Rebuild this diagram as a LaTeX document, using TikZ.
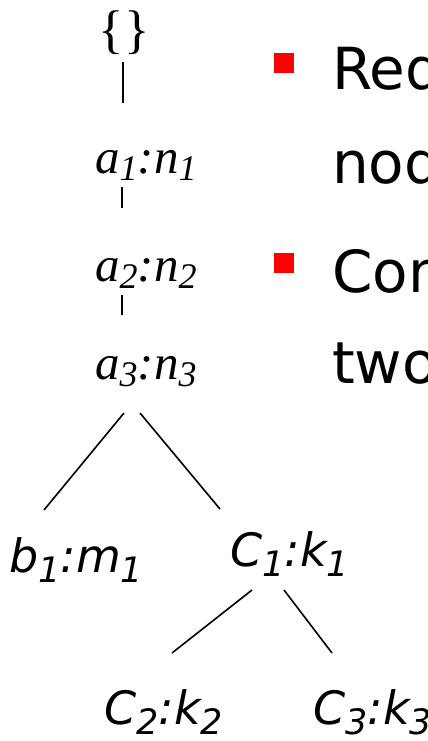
\documentclass[tikz,border=0pt]{standalone}
\usepackage{fontspec}
\newfontfamily\serifit{Liberation Serif}
\newfontfamily\dejasans{DejaVu Sans}
\newcommand\topsub[1]{\raisebox{-7pt}{\fontsize{36}{36}\selectfont #1}}
\newcommand\botsub[1]{\raisebox{-10pt}{\fontsize{35}{35}\selectfont #1}}
\begin{document}
\begin{tikzpicture}[x=1pt,y=-1pt,
  toplbl/.style={inner sep=0pt,anchor=base west,font=\serifit\fontsize{49}{49}\selectfont\itshape},
  botlbl/.style={inner sep=0pt,anchor=base west,font=\dejasans\fontsize{46}{46}\selectfont\itshape},
  bultext/.style={inner sep=0pt,anchor=base west,font=\dejasans\fontsize{58}{58}\selectfont},
  edge/.style={line width=1.6pt},
  bulletsq/.style={fill=red,draw=none,minimum size=20pt,inner sep=0pt}]
\useasboundingbox (0,0) rectangle (428,741);
\clip (0,0) rectangle (428,741);
% top chain
\node[inner sep=0pt,anchor=base,font=\serifit\fontsize{53}{53}\selectfont] (root) at (124,48) {\{\}};
\node[toplbl] (a1) at (95,173) {a\topsub{1}:n\topsub{1}};
\node[toplbl] (a2) at (95,281) {a\topsub{2}:n\topsub{2}};
\node[toplbl] (a3) at (95,379) {a\topsub{3}:n\topsub{3}};
\coordinate (r0) at (123,62);  \coordinate (r1) at (123,103);
\coordinate (p0) at (122,187); \coordinate (p1) at (122,208);
\coordinate (q0) at (122,295); \coordinate (q1) at (122,315);
\draw[edge] (r0) -- (r1);
\draw[edge] (p0) -- (p1);
\draw[edge] (q0) -- (q1);
% lower tree
\node[botlbl] (b1) at (9,572) {b\botsub{1}:m\botsub{1}};
\node[botlbl] (c1) at (230,566) {C\botsub{1}:k\botsub{1}};
\node[botlbl] (c2) at (104,724) {C\botsub{2}:k\botsub{2}};
\node[botlbl] (c3) at (313,724) {C\botsub{3}:k\botsub{3}};
\coordinate (s0) at (124,413); \coordinate (s1) at (44,510);
\coordinate (t0) at (140,413); \coordinate (t1) at (220,509);
\coordinate (u0) at (252,590); \coordinate (u1) at (172,653);
\coordinate (v0) at (284,590); \coordinate (v1) at (332,653);
\draw[edge] (s0) -- (s1);
\draw[edge] (t0) -- (t1);
\draw[edge] (u0) -- (u1);
\draw[edge] (v0) -- (v1);
% bullets
\node[bulletsq] (bul1) at (284,63) {};
\node[bulletsq] (bul2) at (284,263) {};
\node[bultext] (l1) at (332,90) {Reduction};
\node[bultext] (l2) at (332,183) {node};
\node[bultext] (l3) at (332,292) {Concatenation};
\node[bultext] (l4) at (332,383) {two parts};
\end{tikzpicture}
\end{document}
